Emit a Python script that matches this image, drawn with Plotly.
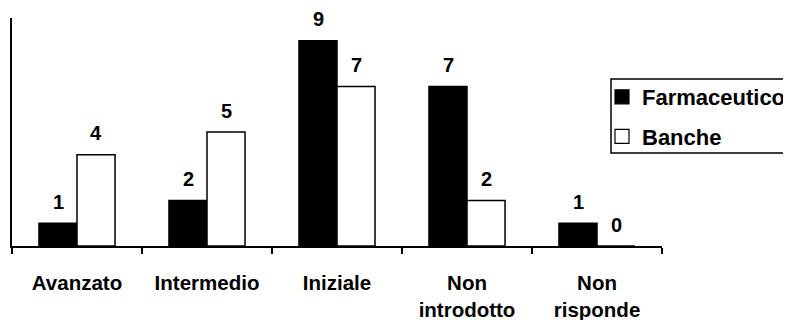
import plotly.graph_objects as go

categories = ["Avanzato", "Intermedio", "Iniziale", "Non<br>introdotto", "Non<br>risponde"]
farmaceutico = [1, 2, 9, 7, 1]
banche = [4, 5, 7, 2, 0]
series_names = ["Farmaceutico", "Banche"]

FONT = "Liberation Sans, Arial, sans-serif"
# the page has an 8px body margin, so the figure is drawn 8px smaller
W, H = 783, 312
ML, MR, MT, MB = 4, 129, 10, 74

fig = go.Figure()
fig.add_trace(go.Bar(name=series_names[0], x=categories, y=farmaceutico,
                     marker=dict(color="black", line=dict(color="black", width=1.5)),
                     showlegend=False))
fig.add_trace(go.Bar(name=series_names[1], x=categories, y=banche,
                     marker=dict(color="white", line=dict(color="black", width=1.5)),
                     showlegend=False))
# legend entries with larger square symbols
for nm, col, grp in ((series_names[0], "black", "a"), (series_names[1], "white", "b")):
    fig.add_trace(go.Scatter(name=nm, x=[None], y=[None], mode="markers",
                             marker=dict(symbol="square", size=14, color=col,
                                         line=dict(color="black", width=1.2)),
                             legendgroup=grp, showlegend=True, hoverinfo="skip"))

for i, c in enumerate(categories):
    for vals, sh in ((farmaceutico, -19), (banche, 19)):
        fig.add_annotation(x=c, y=vals[i], text=str(vals[i]), showarrow=False,
                           xshift=sh, yshift=21.5, yanchor="middle",
                           font=dict(family=FONT, size=20, color="black", weight="bold"))

pw = W - ML - MR
ph = H - MT - MB
def px(x):  # reference-page pixel -> paper
    return (x - 8 - ML) / pw
def py(y):
    return (H - MB - (y - 8)) / ph

fig.add_shape(type="rect", xref="paper", yref="paper",
              x0=px(611), x1=px(820), y0=py(153), y1=py(79),
              line=dict(color="black", width=1.5), fillcolor="rgba(0,0,0,0)")

fig.update_layout(
    width=W, height=H,
    margin=dict(l=ML, r=MR, t=MT, b=MB, autoexpand=False),
    paper_bgcolor="white", plot_bgcolor="white",
    barmode="group", bargap=0.415, bargroupgap=0,
    font=dict(family=FONT, size=20, color="black", weight="bold"),
    legend=dict(x=px(602), xanchor="left", y=py(76), yanchor="top",
                traceorder="grouped", tracegroupgap=8,
                font=dict(family=FONT, size=22, color="black", weight="bold"),
                bgcolor="rgba(0,0,0,0)", borderwidth=0),
    xaxis=dict(showline=True, linecolor="black", linewidth=1.5,
               ticks="outside", tickson="boundaries", ticklen=6, tickwidth=1.5,
               tickcolor="black", showgrid=False, zeroline=False,
               ticklabelstandoff=18,
               tickfont=dict(family=FONT, size=20.5, color="black", weight="bold")),
    yaxis=dict(range=[0, 10], showline=True, linecolor="black", linewidth=1.5,
               showticklabels=False, ticks="", showgrid=False, zeroline=False),
)

fig.write_html("out.html")
